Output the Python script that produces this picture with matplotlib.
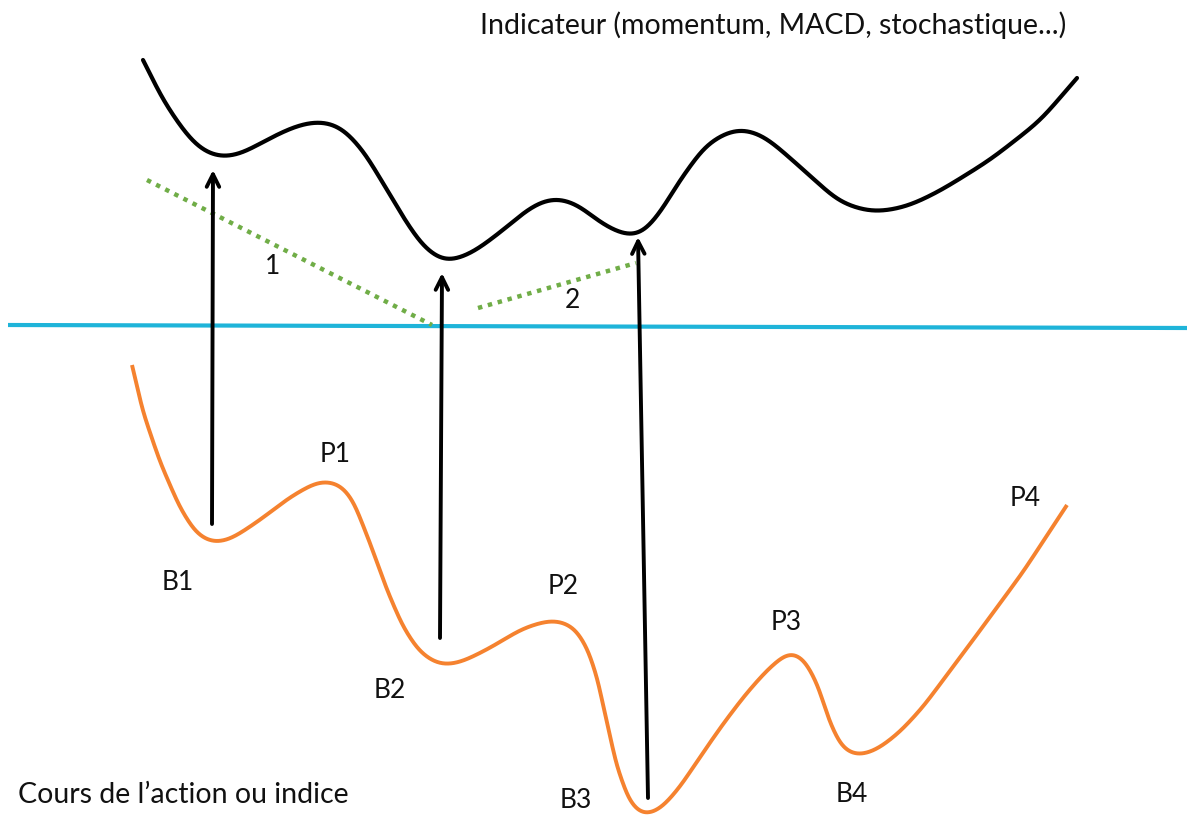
import numpy as np
import matplotlib
matplotlib.use("Agg")
import matplotlib.pyplot as plt

# ---- data (pixel-like coordinates, y downward) ----
indicator_x = [143, 163, 183, 200, 220, 240, 270, 297, 320, 340, 363, 383, 403, 423, 445,
               473, 507, 530, 553, 577, 600, 627, 640, 660, 680, 707, 737, 760,
               773, 807, 840, 873, 907, 940, 990, 1040, 1077]
indicator_y = [60, 100, 130, 150, 159, 155, 138, 125, 120, 125, 150, 183, 217, 247, 264,
               253, 227, 207, 196, 203, 223, 237, 237, 213, 180, 143, 127, 133,
               143, 173, 203, 213, 207, 191, 160, 121, 78]

price_x = [132, 143, 160, 180, 197, 213, 230, 260, 290, 320, 340, 353, 370, 387, 403, 420, 440,
           460, 490, 523, 553, 573, 587, 597, 607, 617, 630, 643, 660, 680, 700,
           723, 745, 767, 790, 803, 817, 830, 843, 857, 877, 900, 923, 973, 1023, 1067]
price_y = [365, 412, 462, 508, 535, 544, 540, 520, 497, 480, 483, 500, 543, 590, 627, 653, 666,
           663, 648, 628, 619, 625, 647, 677, 723, 767, 803, 817, 810, 787, 757,
           724, 695, 670, 650, 657, 683, 723, 750, 757, 750, 732, 707, 640, 572, 505]

zero_line_x = [8, 1187]
zero_line_y = [325, 328]

trend1_x = [147, 432]
trend1_y = [180, 325]
trend2_x = [478, 636]
trend2_y = [308, 263]

arrow_x0 = [212, 440, 648]
arrow_y0 = [524, 638, 798]
arrow_x1 = [213, 442, 638]
arrow_y1 = [170, 273, 237]

point_labels = ["B1", "P1", "B2", "P2", "B3", "P3", "B4", "P4"]
label_x = [178, 335, 390, 563, 576, 786, 852, 1025]
label_y = [583, 455, 690, 586, 800, 622, 795, 499]

trend_labels = ["1", "2"]
trend_label_x = [273, 572]
trend_label_y = [266, 300]

title_text = "Indicateur (momentum, MACD, stochastique...)"
bottom_text = "Cours de l\u2019action ou indice"


def smooth_curve(xs, ys, sigma=11.0, step=0.5):
    """Resample the traced polyline by arc length and Gaussian-smooth it."""
    x = np.asarray(xs, float)
    y = np.asarray(ys, float)
    s = np.concatenate([[0], np.cumsum(np.hypot(np.diff(x), np.diff(y)))])
    ss = np.arange(0, s[-1] + step, step)
    X = np.interp(ss, s, x)
    Y = np.interp(ss, s, y)
    r = int(4 * sigma / step)
    k = np.exp(-0.5 * (np.arange(-r, r + 1) * step / sigma) ** 2)
    k /= k.sum()

    def pad(v):
        left = 2 * v[0] - v[1:r + 1][::-1]
        right = 2 * v[-1] - v[-r - 1:-1][::-1]
        return np.concatenate([left, v, right])

    Xs = np.convolve(pad(X), k, mode='valid')
    Ys = np.convolve(pad(Y), k, mode='valid')
    return Xs, Ys


plt.rcParams['font.family'] = ['Lato', 'DejaVu Sans']

fig = plt.figure(figsize=(11.87, 8.19), dpi=100)
ax = fig.add_axes([0, 0, 1, 1])
ax.set_xlim(0, 1187)
ax.set_ylim(819, 0)
ax.axis('off')

# zero line
ax.plot(zero_line_x, zero_line_y, color='#1fb4d9', lw=3.0, solid_capstyle='butt', zorder=2)

# dotted trend lines
for tx, ty in [(trend1_x, trend1_y), (trend2_x, trend2_y)]:
    ax.plot(tx, ty, color='#70ad47', lw=3.2, linestyle=(0, (1, 1.3)), dash_capstyle='butt', zorder=3)

# indicator curve
ix, iy = smooth_curve(indicator_x, indicator_y, sigma=14.0)
ax.plot(ix, iy, color='black', lw=3.0, solid_capstyle='round', zorder=4)

# price curve
px, py = smooth_curve(price_x, price_y, sigma=11.0)
ax.plot(px, py, color='#f5822f', lw=2.8, solid_capstyle='butt', zorder=4)

# arrows
for x0, y0, x1, y1 in zip(arrow_x0, arrow_y0, arrow_x1, arrow_y1):
    ax.annotate("", xy=(x1, y1), xytext=(x0, y0),
                arrowprops=dict(arrowstyle="->,head_length=0.9,head_width=0.45",
                                color='black', lw=2.8, shrinkA=0, shrinkB=0),
                zorder=5)

for t, x, y in zip(point_labels, label_x, label_y):
    ax.text(x, y, t, fontsize=19, ha='center', va='center', color='#111111')

for t, x, y in zip(trend_labels, trend_label_x, trend_label_y):
    ax.text(x, y, t, fontsize=19, ha='center', va='center', color='#111111')

ax.text(480, 25, title_text, fontsize=20.5, ha='left', va='center', color='#111111')
ax.text(18, 795, bottom_text, fontsize=20.5, ha='left', va='center', color='#111111')

fig.savefig("out.png", dpi=100)
